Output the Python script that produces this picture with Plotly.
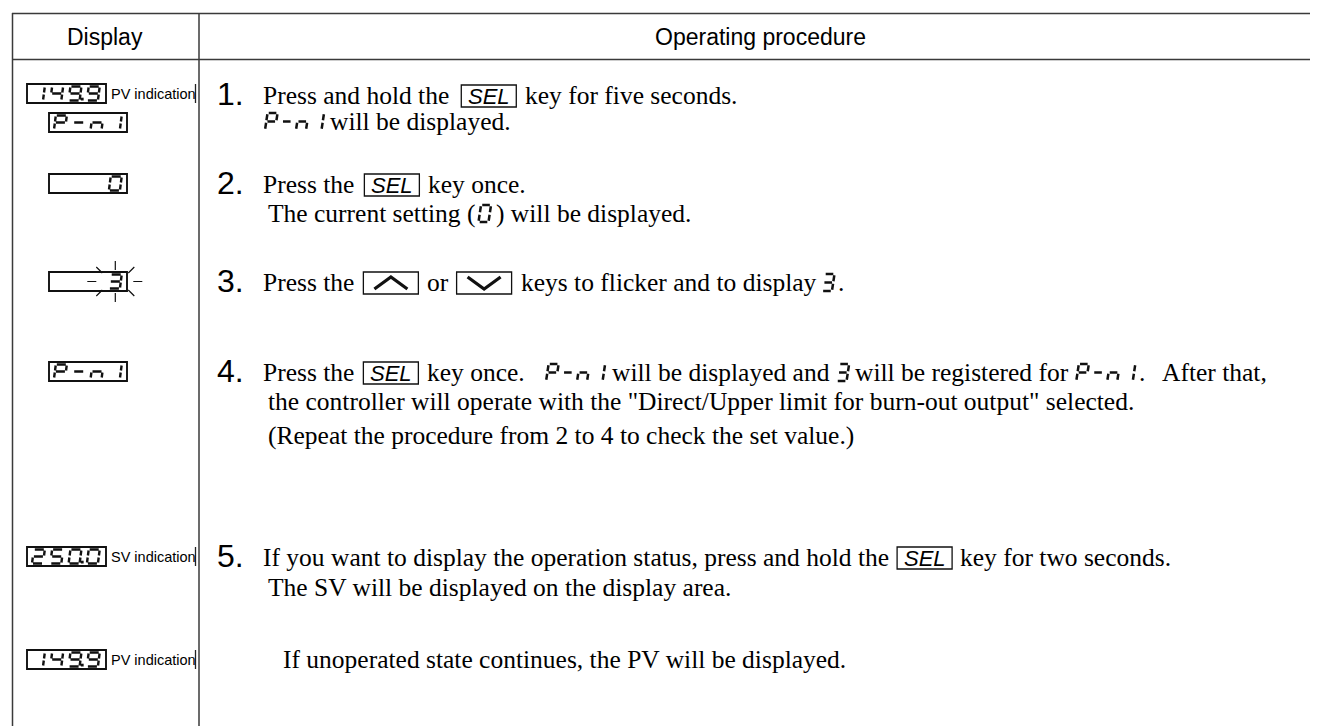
import math
import plotly.graph_objects as go

W, H = 1318, 726
OFF = 8  # page body margin of the exported html

# ---------------- content ----------------
header_labels = ["Display", "Operating procedure"]
step_numbers = ["1.", "2.", "3.", "4.", "5."]
display_values = ["149.9", "P-n1", "0", "3", "P-n1", "250.0", "149.9"]
display_captions = ["PV indication", "", "", "", "", "SV indication", "PV indication"]
display_flicker = [False, False, False, True, False, False, False]
key_label = "SEL"

# tokens: ("t", text) text, ("k", label) key, ("up",) ("down",) arrow keys,
#         ("s", chars) seven-segment glyphs, ("g", px) gap
step_lines = [
    [("t", "Press and hold the"), ("g", 13), ("k", key_label), ("g", 8), ("t", "key for five seconds.")],
    [("s", "P-n1"), ("g", 5), ("t", "will be displayed.")],
    [("t", "Press the"), ("g", 11), ("k", key_label), ("g", 8), ("t", "key once.")],
    [("t", "The current setting ("), ("g", 4), ("s", "0"), ("g", 4), ("t", ") will be displayed.")],
    [("t", "Press the"), ("g", 10), ("up",), ("g", 8), ("t", "or"), ("g", 9), ("down",), ("g", 8),
     ("t", "keys to flicker and to display"), ("g", 7), ("s", "3"), ("g", 2), ("t", ".")],
    [("t", "Press the"), ("g", 10), ("k", key_label), ("g", 8), ("t", "key once."), ("g", 22), ("s", "P-n1"),
     ("g", 6), ("t", "will be displayed and"), ("g", 8), ("s", "3"), ("g", 5), ("t", "will be registered for"),
     ("g", 9), ("s", "P-n1"), ("g", 3), ("t", "."), ("g", 16), ("t", "After that,")],
    [("t", 'the controller will operate with the "Direct/Upper limit for burn-out output" selected.')],
    [("t", "(Repeat the procedure from 2 to 4 to check the set value.)")],
    [("t", "If you want to display the operation status, press and hold the"), ("g", 9), ("k", key_label),
     ("g", 7), ("t", "key for two seconds.")],
    [("t", "The SV will be displayed on the display area.")],
    [("t", "If unoperated state continues, the PV will be displayed.")],
]

# ---------------- layout ----------------
line_x = [262, 265, 262, 267, 262, 262, 267, 267, 262, 267, 282]
line_base = [104, 130, 193, 222, 291, 381, 410, 444, 566, 596, 668]
step_line_index = [0, 2, 4, 5, 8]
num_x = 216
display_box = [(27, 84, 79), (49, 113, 78), (49, 174, 78), (49, 272, 78), (49, 362, 78), (27, 547, 79), (27, 650, 79)]
BOX_H = 19

FS = 25.5        # body text size
NUM_FS = 32
SERIF = "Liberation Serif, Times New Roman, serif"
SANS = "Liberation Sans, Arial, sans-serif"
LINE = "#3a3a3a"

TW = {' ': 250, '!': 333, '"': 408, '(': 333, ')': 333, ',': 250, '-': 333, '.': 250, '/': 278, ':': 278,
      'A': 722, 'B': 667, 'C': 667, 'D': 722, 'E': 611, 'F': 556, 'G': 722, 'H': 722, 'I': 333, 'J': 389,
      'K': 722, 'L': 611, 'M': 889, 'N': 722, 'O': 722, 'P': 556, 'Q': 722, 'R': 667, 'S': 556, 'T': 611,
      'U': 722, 'V': 722, 'W': 944, 'X': 722, 'Y': 722, 'Z': 611,
      'a': 444, 'b': 500, 'c': 444, 'd': 500, 'e': 444, 'f': 333, 'g': 500, 'h': 500, 'i': 278, 'j': 278,
      'k': 500, 'l': 278, 'm': 778, 'n': 500, 'o': 500, 'p': 500, 'q': 500, 'r': 333, 's': 389, 't': 278,
      'u': 500, 'v': 500, 'w': 722, 'x': 500, 'y': 500, 'z': 444}
for d in "0123456789":
    TW[d] = 500


def text_w(s, fs):
    return sum(TW.get(c, 500) for c in s) / 1000.0 * fs


SEGMAP = {'0': 'abcdef', '1': 'bc', '2': 'abged', '3': 'abgcd', '4': 'fgbc', '5': 'afgcd', '6': 'afgedc',
          '7': 'abc', '8': 'abcdefg', '9': 'abcdfg', 'P': 'abefg', '-': 'g', 'n': 'ceg', ' ': ''}
SEGDEF = {'a': ((0, 1), (1, 1)), 'b': ((1, 1), (1, .5)), 'c': ((1, .5), (1, 0)), 'd': ((0, 0), (1, 0)),
          'e': ((0, .5), (0, 0)), 'f': ((0, 1), (0, .5)), 'g': ((0, .5), (1, .5))}


def cells_of(s):
    cells = []
    for ch in s:
        if ch == '.' and cells:
            cells[-1] = (cells[-1][0], True)
        else:
            cells.append((ch, False))
    return cells


def seg_glyphs(s, x0, yb, w, h, pitch, slant, gap, ncells=None):
    cells = cells_of(s)
    if ncells:
        cells = [(' ', False)] * (ncells - len(cells)) + cells
    path, dots = [], []
    for i, (ch, dp) in enumerate(cells):
        cx = x0 + i * pitch
        for sg in SEGMAP.get(ch, ''):
            (ax, ay), (bx, by) = SEGDEF[sg]
            ax *= w; bx *= w; ay *= h; by *= h
            L = math.hypot(bx - ax, by - ay)
            ux, uy = (bx - ax) / L, (by - ay) / L
            ax += ux * gap; ay += uy * gap; bx -= ux * gap; by -= uy * gap
            path.append(f"M{cx + ax + slant * ay:.2f},{yb - ay:.2f}L{cx + bx + slant * by:.2f},{yb - by:.2f}")
        if dp:
            dots.append((cx + w + (pitch - w) / 2 - 1, yb))
    return "".join(path), dots


shapes = []
annotations = []


def add_line(x0, y0, x1, y1, color=LINE, width=1.5):
    shapes.append(dict(type="line", x0=x0, y0=y0, x1=x1, y1=y1, xref="x", yref="y",
                       line=dict(color=color, width=width)))


def add_rect(x0, y0, x1, y1, color="#111", width=1.5):
    shapes.append(dict(type="rect", x0=x0, y0=y0, x1=x1, y1=y1, xref="x", yref="y",
                       line=dict(color=color, width=width), fillcolor="rgba(0,0,0,0)"))


def add_path(p, width, color="#111"):
    if p:
        shapes.append(dict(type="path", path=p, xref="x", yref="y", line=dict(color=color, width=width)))


def add_dot(x, y, r=1.6):
    shapes.append(dict(type="rect", x0=x - r, y0=y - 2 * r, x1=x + r, y1=y, xref="x", yref="y",
                       line=dict(width=0), fillcolor="#111"))


def add_text(x, y, txt, fs, family, anchor="left", color="#000"):
    annotations.append(dict(x=x, y=y, xref="x", yref="y", text=txt, showarrow=False, xanchor=anchor,
                            yanchor="middle", borderpad=0, font=dict(size=fs, family=family, color=color)))


# ---------------- table frame ----------------
add_line(12, 13.5, W + OFF, 13.5)
add_line(12, 59.5, W + OFF, 59.5)
add_line(12.5, 13, 12.5, H + OFF)
add_line(199, 13, 199, H + OFF)
add_text(105, 37, header_labels[0], 23, SANS, "center")
add_text(760, 37, header_labels[1], 23, SANS, "center")

# ---------------- display column ----------------
for val, cap, flick, (bx, by, bw) in zip(display_values, display_captions, display_flicker, display_box):
    add_rect(bx, by, bx + bw, by + BOX_H, width=1.9)
    pitch = 18.3
    w, h = 11, 14
    x0 = bx + 5
    yb = by + BOX_H - 2.5
    p, dots = seg_glyphs(val, x0, yb, w, h, pitch, 0.13, 1.0, ncells=4)
    add_path(p, 2.4)
    for dx, dy in dots:
        add_dot(dx, dy, 1.4)
    if cap:
        add_text(bx + bw + 3.5, by + BOX_H / 2, cap, 14.5, SANS)
        add_line(195.5, by, 195.5, by + BOX_H, color="#222", width=1.3)
    if flick:
        cx = x0 + 3 * pitch + w / 2 + 0.13 * h / 2
        cy = by + BOX_H / 2
        y0, y1 = by, by + BOX_H
        rays = [(cx - 28, cy, cx - 19, cy), (cx + 18, cy, cx + 27, cy),
                (cx, y0 - 11, cx, y0 - 2), (cx, y1 + 2, cx, y1 + 11),
                (cx - 13, y0 + 1, cx - 19, y0 - 5), (cx + 13, y0 + 1, cx + 19, y0 - 5),
                (cx - 13, y1 - 1, cx - 19, y1 + 5), (cx + 13, y1 - 1, cx + 19, y1 + 5)]
        add_path("".join(f"M{a:.1f},{b:.1f}L{c:.1f},{d:.1f}" for a, b, c, d in rays), 1.2)

# ---------------- step numbers ----------------
for num, li in zip(step_numbers, step_line_index):
    add_text(num_x, line_base[li] - 0.347 * NUM_FS + 1, num, NUM_FS, SANS)

# ---------------- procedure lines ----------------
KEY_W = 55
for tokens, x, yb in zip(step_lines, line_x, line_base):
    cy = yb - 0.337 * FS
    for tok in tokens:
        kind = tok[0]
        if kind == "g":
            x += tok[1]
        elif kind == "t":
            add_text(x, cy, tok[1], FS, SERIF)
            x += text_w(tok[1], FS)
        elif kind == "k":
            add_rect(x, yb - 19, x + KEY_W, yb + 3, width=1.3)
            add_text(x + KEY_W / 2, yb - 8, "<i>" + tok[1] + "</i>", 22, SANS, "center")
            x += KEY_W
        elif kind in ("up", "down"):
            add_rect(x, yb - 19, x + KEY_W, yb + 3, width=1.3)
            m = yb - 8
            s = -1 if kind == "up" else 1
            add_path(f"M{x + 11:.1f},{m - 6 * s:.1f}L{x + 27.5:.1f},{m + 6 * s:.1f}L{x + 44:.1f},{m - 6 * s:.1f}", 3.2)
            x += KEY_W
        elif kind == "s":
            n = len(cells_of(tok[1]))
            p, dots = seg_glyphs(tok[1], x, yb, 10, 17, 15.5, 0.15, 1.2)
            add_path(p, 2.5)
            x += (n - 1) * 15.5 + 10 + 0.15 * 17

fig = go.Figure()
fig.update_layout(
    width=W, height=H,
    margin=dict(l=0, r=0, t=0, b=0),
    paper_bgcolor="white", plot_bgcolor="white",
    xaxis=dict(range=[OFF, W + OFF], visible=False, fixedrange=True),
    yaxis=dict(range=[H + OFF, OFF], visible=False, fixedrange=True),
    shapes=shapes, annotations=annotations, showlegend=False,
)
fig.write_html("out.html")
